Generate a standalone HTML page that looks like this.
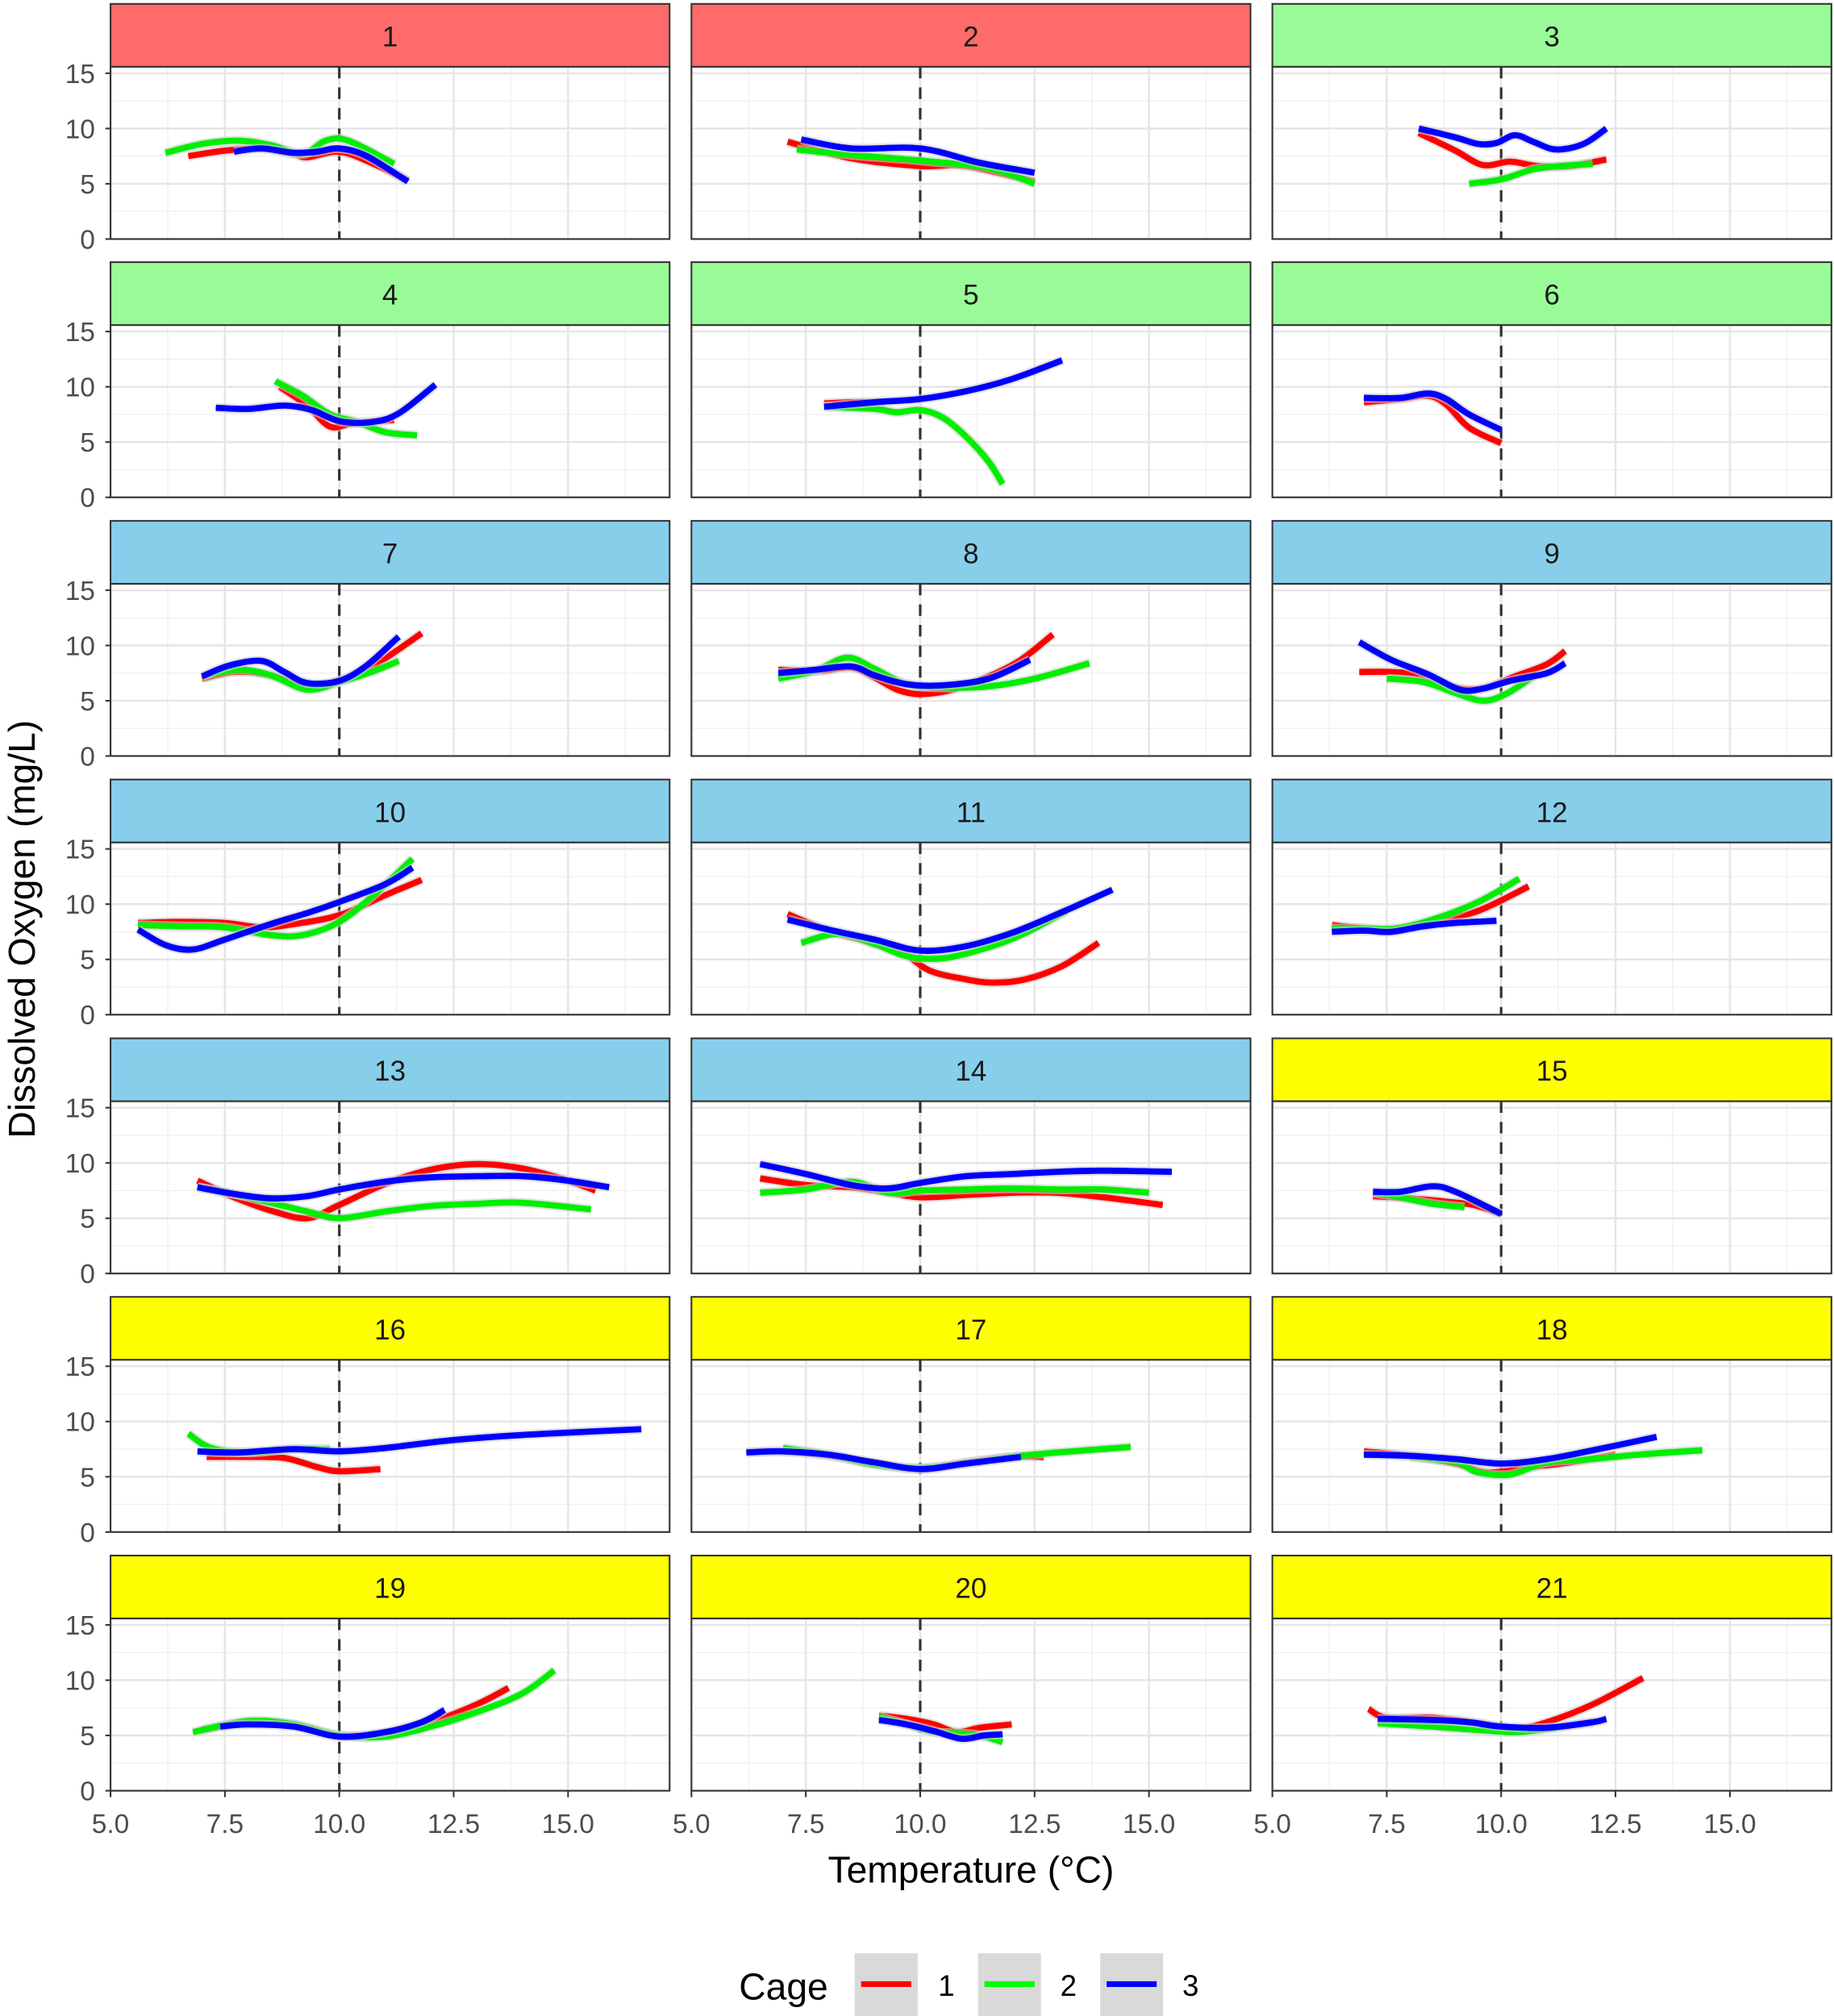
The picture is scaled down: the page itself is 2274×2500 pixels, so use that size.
<!DOCTYPE html>
<html><head><meta charset="utf-8"><style>
html,body{margin:0;padding:0;background:#fff;}
svg{display:block;font-family:"Liberation Sans",Arial,sans-serif;}
</style></head><body>
<svg id="chart" width="2274" height="2500" viewBox="0 0 1427 1568.8" xmlns="http://www.w3.org/2000/svg">
<rect x="0" y="0" width="1427" height="1569" fill="#fff"/>
<g id="panels"></g>
<text x="755.5" y="1465" font-size="29" text-anchor="middle" fill="#000">Temperature (°C)</text>
<text transform="translate(27,723) rotate(-90)" font-size="29" text-anchor="middle" fill="#000">Dissolved Oxygen (mg/L)</text>
<g>
<text x="575" y="1556" font-size="29" fill="#000">Cage</text>
<rect x="665" y="1520" width="49" height="49" fill="#d9d9d9"/>
<line x1="670" y1="1544" x2="709" y2="1544" stroke="#f00" stroke-width="4.5"/>
<text x="730" y="1553" font-size="23">1</text>
<rect x="761" y="1520" width="49" height="49" fill="#d9d9d9"/>
<line x1="766" y1="1544" x2="805" y2="1544" stroke="#0f0" stroke-width="4.5"/>
<text x="825" y="1553" font-size="23">2</text>
<rect x="856" y="1520" width="49" height="49" fill="#d9d9d9"/>
<line x1="861" y1="1544" x2="900" y2="1544" stroke="#00f" stroke-width="4.5"/>
<text x="920" y="1553" font-size="23">3</text>
</g>
</svg>
<script>
const panelIds = [1,2,3,4,5,6,7,8,9,10,11,12,13,14,15,16,17,18,19,20,21];
const stripColors = ["#ff6b6b","#ff6b6b","#98fb98","#98fb98","#98fb98","#98fb98","#87ceeb","#87ceeb","#87ceeb","#87ceeb","#87ceeb","#87ceeb","#87ceeb","#87ceeb","#ffff00","#ffff00","#ffff00","#ffff00","#ffff00","#ffff00","#ffff00"];
const xTicks = [5.0,7.5,10.0,12.5,15.0];
const xTickLabels = ["5.0","7.5","10.0","12.5","15.0"];
const yTicks = [0,5,10,15];
const yTickLabels = ["0","5","10","15"];
const cage1 = [
[[6.7,7.5],[7.5,8.0],[8.3,8.2],[9.0,7.7],[9.3,7.4],[10.0,7.9],[10.7,6.9],[11.5,5.3]],
[[7.1,8.8],[8.5,7.3],[10,6.6],[11,6.6],[12.5,5.2]],
[[8.2,9.6],[9.0,8.0],[9.6,6.7],[10.2,7.0],[10.8,6.6],[11.5,6.6],[12.3,7.2]],
[[8.7,10.0],[9.3,8.3],[9.8,6.4],[10.3,6.7],[11.2,7.0]],
[[7.9,8.5],[8.5,8.6],[9.2,8.6]],
[[7.0,8.6],[7.8,8.9],[8.4,9.2],[8.8,8.4],[9.3,6.3],[10.0,4.9]],
[[7.0,7.0],[7.7,7.6],[8.4,7.4],[9.3,6.4],[10.0,6.8],[10.8,8.3],[11.8,11.1]],
[[6.9,7.8],[7.8,7.7],[8.5,8.0],[9.0,7.1],[9.5,6.0],[10,5.6],[10.7,6.0],[11.5,7.2],[12.2,8.7],[12.9,11.0]],
[[6.9,7.6],[7.6,7.6],[8.3,7.3],[9.0,6.2],[9.6,6.1],[10.3,7.2],[11.0,8.3],[11.4,9.5]],
[[5.6,8.3],[6.5,8.4],[7.5,8.3],[8.3,7.9],[9.0,8.2],[10,9.0],[11,10.8],[11.8,12.2]],
[[7.1,9.1],[8.0,7.6],[9.0,6.5],[9.6,5.7],[10.2,4.0],[11,3.2],[11.6,2.9],[12.3,3.2],[13.1,4.4],[13.9,6.5]],
[[6.3,8.1],[7.0,7.8],[7.6,7.6],[8.5,8.4],[9.5,9.4],[10.6,11.6]],
[[6.9,8.4],[7.7,6.9],[8.5,5.7],[9.3,5.0],[10,6.2],[11,8.1],[12,9.4],[13,9.9],[14,9.5],[15,8.4],[15.6,7.5]],
[[6.5,8.6],[7.5,8.0],[8.5,7.8],[9.2,7.4],[10,6.9],[11,7.1],[12,7.3],[13,7.3],[14,6.9],[15.3,6.2]],
[[7.2,7.0],[8.0,6.8],[8.8,6.5],[9.4,6.2],[10,5.4]],
[[7.1,6.8],[8.0,6.8],[8.8,6.7],[9.5,5.9],[10,5.5],[10.9,5.7]],
[[6.2,7.2],[7,7.3],[8,6.9],[9,6.2],[10,5.7],[11,6.3],[12,6.8],[12.7,6.8]],
[[7.0,7.3],[8,6.9],[9,6.2],[9.7,5.4],[10.5,5.8],[11.5,6.3],[12.5,7.0]],
[[7.0,5.5],[8.0,6.2],[9.0,6.0],[10,5.0],[11,5.2],[12,6.2],[13,7.8],[13.7,9.3]],
[[9.1,6.8],[9.7,6.5],[10.3,6.0],[10.8,5.3],[11.3,5.7],[12.0,6.0]],
[[7.1,7.4],[7.5,6.6],[8.5,6.6],[9.5,6.1],[10.3,5.6],[11,6.2],[12,7.8],[13.1,10.2]]
];
const cage2 = [
[[6.2,7.8],[7.0,8.6],[7.8,8.9],[8.5,8.5],[9.2,7.7],[9.7,8.9],[10.2,8.9],[11.2,6.8]],
[[7.3,8.1],[8.5,7.6],[10,7.1],[11.5,6.4],[12.5,5.0]],
[[9.3,5.0],[10.0,5.4],[10.7,6.3],[11.3,6.6],[12.0,6.8]],
[[8.6,10.5],[9.2,9.2],[9.8,7.5],[10.4,6.8],[11.0,5.9],[11.7,5.6]],
[[7.9,8.2],[9.0,8.0],[9.5,7.7],[10.0,7.9],[10.5,7.2],[11.0,5.5],[11.5,3.2],[11.8,1.2]],
[],
[[7.0,7.2],[7.8,7.8],[8.5,7.3],[9.3,6.0],[10.0,6.7],[10.7,7.6],[11.3,8.6]],
[[6.9,7.0],[7.7,7.7],[8.4,8.9],[9.0,7.9],[9.7,6.5],[10.5,6.2],[11.5,6.3],[12.5,7.0],[13.7,8.4]],
[[7.5,7.0],[8.3,6.7],[9.0,5.7],[9.6,5.0],[10.1,5.6],[10.7,7.2]],
[[5.6,8.1],[6.5,8.0],[7.5,7.9],[8.5,7.2],[9.2,7.2],[10,8.4],[10.8,11.0],[11.6,14.1]],
[[7.4,6.5],[8.2,7.3],[9.0,6.4],[9.7,5.3],[10.5,5.1],[11.5,6.1],[12.3,7.4],[13.2,9.4]],
[[6.3,7.8],[7.0,7.8],[7.7,7.8],[8.5,8.6],[9.5,10.2],[10.4,12.3]],
[[6.9,7.8],[7.7,7.2],[8.5,6.4],[9.3,5.6],[10,5.0],[11,5.6],[12,6.1],[13,6.3],[14,6.4],[15.5,5.8]],
[[6.5,7.3],[7.5,7.6],[8.5,8.3],[9.3,7.3],[10,7.5],[11,7.6],[12,7.7],[13,7.6],[14,7.6],[15,7.3]],
[[7.2,7.3],[7.8,6.9],[8.5,6.3],[9.2,6.0]],
[[6.7,8.9],[7.2,7.6],[8.0,7.2],[9.0,7.5],[9.8,7.5]],
[[7.0,7.6],[8,7.0],[9,6.1],[10,5.8],[11,6.2],[12,6.8],[13,7.2],[14.6,7.7]],
[[8.0,6.8],[9,6.3],[9.5,5.4],[10.2,5.2],[11,6.3],[12,6.6],[13,7.0],[14.4,7.4]],
[[6.8,5.3],[8.0,6.3],[9.0,6.0],[10,5.0],[11,4.9],[12,5.8],[13,7.1],[14.0,8.8],[14.7,10.9]],
[[9.1,6.7],[9.7,6.0],[10.3,5.3],[10.8,5.2],[11.3,5.0],[11.8,4.4]],
[[7.3,6.1],[8.5,5.8],[9.5,5.5],[10.3,5.3],[11,5.6],[12,6.2]]
];
const cage3 = [
[[7.7,7.9],[8.3,8.2],[9.0,7.8],[9.5,7.9],[10.0,8.2],[10.6,7.5],[11.5,5.2]],
[[7.4,9.0],[8.5,8.2],[10,8.2],[11.3,6.9],[12.5,6.0]],
[[8.2,10.0],[9.0,9.2],[9.5,8.6],[9.9,8.7],[10.3,9.4],[10.7,8.8],[11.2,8.1],[11.8,8.6],[12.3,10.0]],
[[7.3,8.1],[8.0,8.0],[8.8,8.3],[9.4,7.9],[10.0,6.9],[10.7,6.8],[11.3,7.6],[12.1,10.2]],
[[7.9,8.2],[9.0,8.6],[10,8.9],[11,9.6],[12,10.7],[13.1,12.4]],
[[7.0,9.0],[7.8,9.0],[8.4,9.4],[8.8,8.9],[9.3,7.5],[10.0,6.1]],
[[7.0,7.2],[7.6,8.2],[8.3,8.6],[8.8,7.6],[9.3,6.6],[10.0,6.8],[10.6,8.2],[11.3,10.8]],
[[6.9,7.5],[7.7,7.8],[8.5,8.1],[9.0,7.3],[9.7,6.5],[10.5,6.4],[11.5,7.0],[12.4,8.7]],
[[6.9,10.3],[7.6,8.7],[8.4,7.4],[9.1,6.0],[9.6,6.1],[10.2,6.8],[11,7.5],[11.4,8.4]],
[[5.6,7.7],[6.2,6.3],[6.8,5.9],[7.5,6.8],[8.5,8.2],[9.3,9.2],[10,10.2],[11,11.8],[11.6,13.3]],
[[7.1,8.6],[8.0,7.7],[9.0,6.8],[10,5.8],[11,6.2],[12,7.4],[13,9.1],[14.2,11.3]],
[[6.3,7.5],[7.0,7.6],[7.6,7.5],[8.3,8.0],[9.0,8.3],[9.9,8.5]],
[[6.9,7.8],[7.7,7.2],[8.5,6.8],[9.3,7.0],[10,7.6],[11,8.3],[12,8.7],[13,8.8],[14,8.8],[15,8.4],[15.9,7.8]],
[[6.5,9.9],[7.5,9.0],[8.5,8.0],[9.3,7.7],[10,8.2],[11,8.8],[12,9.0],[13,9.2],[14,9.3],[15.5,9.2]],
[[7.2,7.4],[7.8,7.4],[8.5,7.9],[9.0,7.4],[10,5.4]],
[[6.9,7.3],[7.8,7.2],[9.0,7.5],[10.0,7.3],[11,7.6],[12,8.1],[13,8.5],[14.5,8.9],[16.6,9.3]],
[[6.2,7.2],[7,7.3],[8,7.0],[9,6.3],[10,5.7],[11,6.2],[12.2,6.8]],
[[7.0,7.0],[8,6.9],[9,6.6],[10,6.2],[11,6.6],[12,7.4],[13.4,8.6]],
[[7.4,5.8],[8.0,6.0],[9.0,5.8],[10,4.9],[11,5.3],[11.8,6.2],[12.3,7.3]],
[[9.1,6.4],[9.7,6.0],[10.3,5.4],[10.9,4.7],[11.4,5.0],[11.8,5.1]],
[[7.3,6.5],[8.5,6.4],[9.3,6.2],[10,5.8],[11,5.7],[12,6.2],[12.3,6.5]]
];
const seriesColors = ["#ff0000","#00ee00","#0000ff"];

const NS = "http://www.w3.org/2000/svg";
const colLeft = [86,538,990], panelW = 435;
const rowStripTop = [3,204,405.3,606.6,808,1009.2,1210.5];
const stripH = 49, plotH = 134;
const xMin = 5.0, pxPerX = 35.6, yMaxShown = 15.58;
function mk(tag, attrs, parent){const e=document.createElementNS(NS,tag);for(const k in attrs)e.setAttribute(k,attrs[k]);parent.appendChild(e);return e;}
function smoothPath(pts, sx, sy){
  const p = pts.map(d=>[sx(d[0]),sy(d[1])]);
  if(!p.length) return "";
  let s = "M"+p[0][0].toFixed(1)+","+p[0][1].toFixed(1);
  for(let i=0;i<p.length-1;i++){
    const p0=p[i-1]||p[i],p1=p[i],p2=p[i+1],p3=p[i+2]||p2;
    const c1=[p1[0]+(p2[0]-p0[0])/6,p1[1]+(p2[1]-p0[1])/6];
    const c2=[p2[0]-(p3[0]-p1[0])/6,p2[1]-(p3[1]-p1[1])/6];
    s+=" C"+c1[0].toFixed(1)+","+c1[1].toFixed(1)+" "+c2[0].toFixed(1)+","+c2[1].toFixed(1)+" "+p2[0].toFixed(1)+","+p2[1].toFixed(1);
  }
  return s;
}
const root = document.getElementById("panels");
panelIds.forEach((id, i)=>{
  const col=i%3,row=Math.floor(i/3);
  const x0=colLeft[col], st=rowStripTop[row], pt=st+stripH, pb=pt+plotH;
  const sx=v=>x0+(v-xMin)*pxPerX;
  const sy=v=>pb-v*(plotH/yMaxShown);
  const g=mk("g",{},root);
  
  
  const strip=mk("rect",{x:x0,y:st,width:panelW,height:stripH,fill:stripColors[i],stroke:"#333",'stroke-width':1.3},g);
  
  
  const stt=mk("text",{x:x0+panelW/2,y:st+33,'font-size':22,'text-anchor':'middle',fill:'#1a1a1a'},g);
  stt.textContent=id;
  
  
  mk("rect",{x:x0,y:pt,width:panelW,height:plotH,fill:"#fff"},g);
  for(let v=2.5;v<=15;v+=5){mk("line",{x1:x0,x2:x0+panelW,y1:sy(v),y2:sy(v),stroke:"#f0f0f0",'stroke-width':0.9},g);}
  for(let v=6.25;v<17.3;v+=2.5){mk("line",{x1:sx(v),x2:sx(v),y1:pt,y2:pb,stroke:"#f0f0f0",'stroke-width':0.9},g);}
  yTicks.forEach(v=>mk("line",{x1:x0,x2:x0+panelW,y1:sy(v),y2:sy(v),stroke:"#e6e6e6",'stroke-width':1.6},g));
  for(let v=5;v<17.3;v+=2.5){mk("line",{x1:sx(v),x2:sx(v),y1:pt,y2:pb,stroke:"#e6e6e6",'stroke-width':1.6},g);}
  mk("line",{x1:sx(10),x2:sx(10),y1:pt,y2:pb,stroke:"#333",'stroke-width':2,'stroke-dasharray':'9,7'},g);
  [cage1[i],cage2[i],cage3[i]].forEach((pts,k)=>{
    if(!pts.length) return;
    const band=mk("path",{d:smoothPath(pts,sx,sy),fill:"none",stroke:"#cfcfcf",'stroke-width':7.5,'stroke-linecap':'butt',opacity:0.6},g);
    
    
    const ln=mk("path",{d:smoothPath(pts,sx,sy),fill:"none",stroke:seriesColors[k],'stroke-width':4.8,'stroke-linecap':'butt'},g);
    
    
  });
  mk("rect",{x:x0,y:pt,width:panelW,height:plotH,fill:"none",stroke:"#333",'stroke-width':1.3},g);
  if(col===0){
    yTicks.forEach((v,j)=>{
      mk("line",{x1:x0-4,x2:x0,y1:sy(v),y2:sy(v),stroke:"#333",'stroke-width':1.3},g);
      const t=mk("text",{x:x0-12,y:sy(v)+7.5,'font-size':21,'text-anchor':'end',fill:'#4d4d4d'},g);
      t.textContent=yTickLabels[j];
      
      
    });
  }
  if(row===6){
    xTicks.forEach((v,j)=>{
      mk("line",{x1:sx(v),x2:sx(v),y1:pb,y2:pb+5,stroke:"#333",'stroke-width':1.3},g);
      const t=mk("text",{x:sx(v),y:pb+33,'font-size':21,'text-anchor':'middle',fill:'#4d4d4d'},g);
      t.textContent=xTickLabels[j];
      
      
    });
  }
});
</script>
</body></html>
